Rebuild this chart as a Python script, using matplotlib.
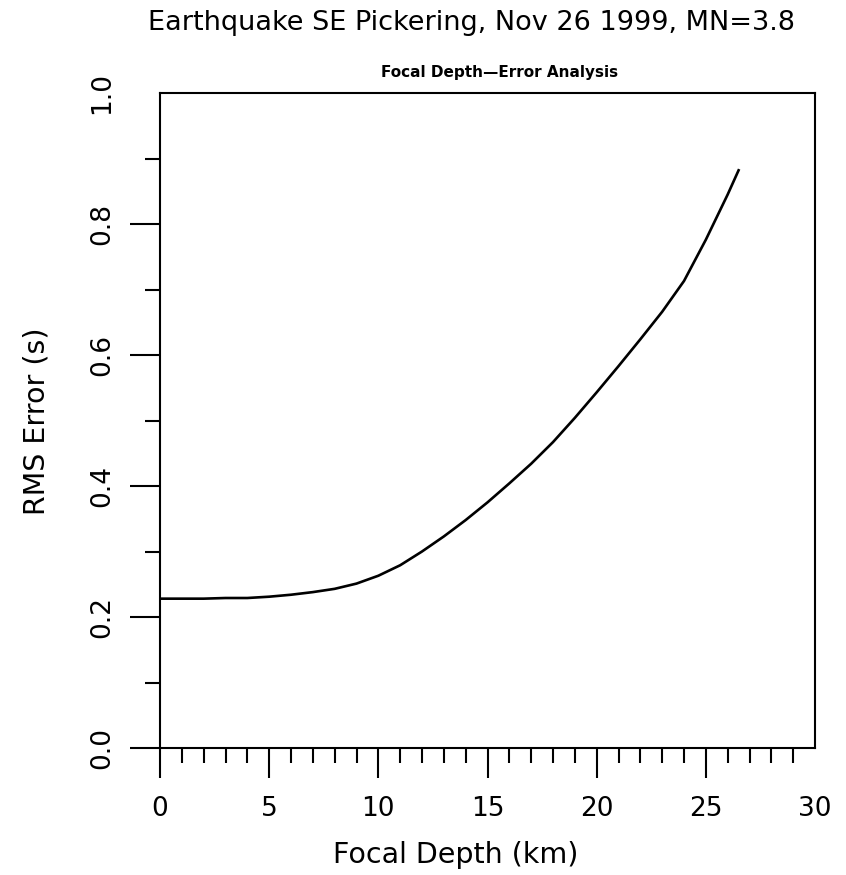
import matplotlib
matplotlib.use("Agg")
import matplotlib.pyplot as plt
from matplotlib.ticker import FixedLocator

# RMS travel-time residual as a function of trial focal depth
depth_km = [0, 1, 2, 3, 4, 5, 6, 7, 8, 9, 10, 11, 12, 13, 14, 15, 16, 17,
            18, 19, 20, 21, 22, 23, 24, 25, 26, 26.5]
rms_s = [0.228, 0.228, 0.228, 0.229, 0.229, 0.231, 0.234, 0.238, 0.243,
         0.251, 0.263, 0.279, 0.300, 0.323, 0.348, 0.375, 0.404, 0.434,
         0.467, 0.504, 0.543, 0.583, 0.624, 0.666, 0.713, 0.776, 0.845,
         0.882]

x_ticks = [0, 5, 10, 15, 20, 25, 30]
y_ticks = [0.0, 0.2, 0.4, 0.6, 0.8, 1.0]

title = "Earthquake SE Pickering, Nov 26 1999, MN=3.8"
subtitle = "Focal Depth\u2014Error Analysis"
xlabel = "Focal Depth (km)"
ylabel = "RMS Error (s)"

W, H = 846, 875
fig = plt.figure(figsize=(W / 100, H / 100), dpi=100)
fig.patch.set_facecolor("white")

left, right, top, bottom = 160, 815, 93, 748
ax = fig.add_axes([left / W, 1 - bottom / H, (right - left) / W, (bottom - top) / H])

ax.plot(depth_km, rms_s, color="black", lw=1.9, solid_joinstyle="round")

ax.set_xlim(0, 30)
ax.set_ylim(0, 1.0)

for s in ax.spines.values():
    s.set_linewidth(1.5)
    s.set_color("black")

ax.xaxis.set_major_locator(FixedLocator(x_ticks))
ax.xaxis.set_minor_locator(FixedLocator([v for v in range(1, 30) if v % 5]))
ax.yaxis.set_major_locator(FixedLocator(y_ticks))
ax.yaxis.set_minor_locator(FixedLocator([0.1, 0.3, 0.5, 0.7, 0.9]))

ax.set_xticklabels([str(v) for v in x_ticks])
ax.set_yticklabels([f"{v:.1f}" for v in y_ticks], rotation=90, va="center")

ax.tick_params(axis="both", which="major", direction="out", length=21.5,
               width=1.5, labelsize=19, color="black")
ax.tick_params(axis="both", which="minor", direction="out", length=10.5,
               width=1.5, color="black")
ax.tick_params(axis="x", which="major", pad=13)
ax.tick_params(axis="y", which="major", pad=11)

# The outermost labelled values carry no tick mark
ax.xaxis.get_major_ticks()[-1].tick1line.set_visible(False)
ax.yaxis.get_major_ticks()[-1].tick1line.set_visible(False)

fig.text(456 / W, 1 - 863 / H, xlabel, ha="center", va="baseline", fontsize=20.5)
fig.text(37 / W, 1 - 421 / H, ylabel, ha="center", va="center",
         rotation=90, fontsize=20.5)

fig.text(471 / W, 1 - 23 / H, title, ha="center", va="center", fontsize=19.5)
fig.text(500 / W, 1 - 72 / H, subtitle, ha="center", va="center",
         fontsize=11, fontweight="bold")

fig.savefig("out.png", dpi=100, facecolor="white")
